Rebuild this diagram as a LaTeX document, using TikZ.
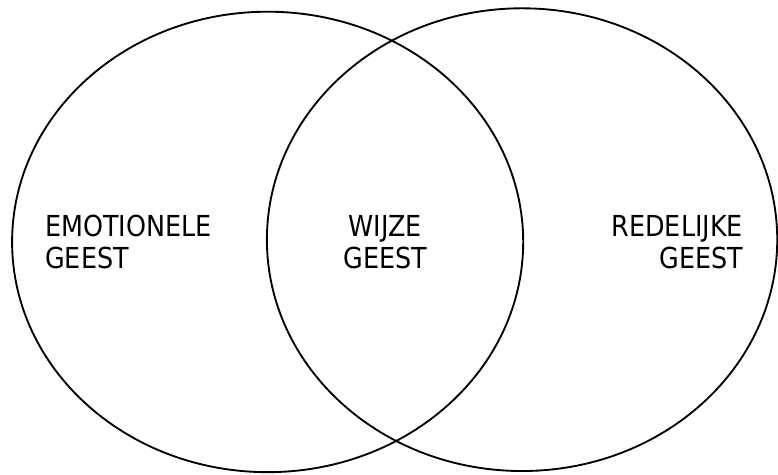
\documentclass[tikz,border=0pt]{standalone}
\usepackage{fontspec}
\usepackage{tikz}
\usetikzlibrary{shapes.geometric, positioning}
\newfontfamily\geestfont{DejaVu Sans}[FakeStretch=0.88]
\definecolor{mydark}{RGB}{0,0,0}
\tikzset{
  venn/.style={ellipse, draw=mydark, line width=1.4pt, inner sep=0pt},
  geesttext/.style={inner sep=0pt, text=mydark,
    font=\geestfont\fontsize{21.75}{24}\selectfont}
}

\begin{document}
\begin{tikzpicture}
  % Page frame
  \useasboundingbox (0,0) rectangle (20.58,12.54);

  % --- Ellipses ---
  \node[venn, minimum width=13.52cm, minimum height=12.18cm] (emo) at (7.08,6.14) {};
  \node[venn, minimum width=13.50cm, minimum height=12.24cm] (red) at (13.81,6.20) {};

  % --- Labels (base = last line) ---
  \node[geesttext, anchor=base west, align=left] (emolabel) at (1.19,5.45) {EMOTIONELE\\GEEST};
  \node[geesttext, anchor=base, align=center] (wijslabel) at (10.19,5.45) {WIJZE\\GEEST};
  \node[geesttext, anchor=base east, align=right] (redlabel) at (19.66,5.45) {REDELIJKE\\GEEST};
\end{tikzpicture}
\end{document}
